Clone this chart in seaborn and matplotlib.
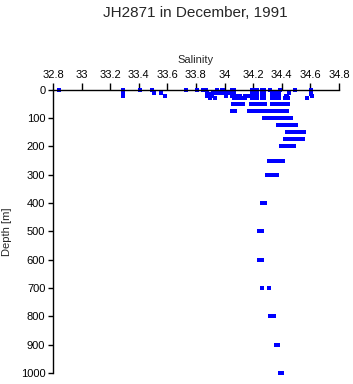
import numpy as np
import pandas as pd
import seaborn as sns
import matplotlib.pyplot as plt

sns.set_style("ticks")
plt.rcParams['font.family'] = ['Liberation Sans', 'DejaVu Sans']

# salinity readings at each sampling depth [m]
sal_0 = [32.844, 33.29, 33.41, 33.49, 33.73, 33.807, 33.85, 33.87, 33.95, 33.98,
         33.99, 34.05, 34.065, 34.19, 34.2, 34.21, 34.23, 34.26, 34.275, 34.32,
         34.39, 34.496, 34.605]
sal_5 = [33.29, 33.95, 34.605]
sal_10 = [33.29, 33.51, 33.555, 33.875, 33.92, 33.935, 33.95, 33.965, 33.98, 33.99,
          34.005, 34.02, 34.035, 34.05, 34.065, 34.19, 34.2, 34.215, 34.23, 34.26,
          34.275, 34.335, 34.35, 34.365, 34.38, 34.454, 34.605]
sal_15 = [33.29, 33.89, 34.605]
sal_20 = [33.29, 33.585, 33.88, 33.895, 33.91, 34.01, 34.05, 34.063, 34.075, 34.085,
          34.097, 34.108, 34.14, 34.152, 34.165, 34.178, 34.19, 34.2, 34.215, 34.23,
          34.26, 34.275, 34.335, 34.35, 34.365, 34.38, 34.43, 34.44, 34.61]
sal_30 = [33.90, 33.935, 34.066, 34.078, 34.09, 34.102, 34.114, 34.126, 34.14, 34.19,
          34.2, 34.215, 34.23, 34.26, 34.275, 34.335, 34.35, 34.365, 34.38, 34.426,
          34.445, 34.575]
sal_50 = [34.061, 34.072, 34.09, 34.1, 34.11, 34.12, 34.131, 34.187, 34.2, 34.21,
          34.22, 34.23, 34.24, 34.25, 34.26, 34.27, 34.284, 34.335, 34.345, 34.355,
          34.365, 34.375, 34.384, 34.391, 34.4, 34.41, 34.42, 34.43, 34.447]
sal_75 = [34.054, 34.073, 34.173, 34.19, 34.20, 34.22, 34.236, 34.25, 34.26, 34.27,
          34.28, 34.29, 34.305, 34.32, 34.335, 34.35, 34.363, 34.375, 34.39, 34.40,
          34.415, 34.427, 34.44]
sal_100 = [34.279, 34.29, 34.30, 34.31, 34.32, 34.333, 34.342, 34.36, 34.377, 34.39,
           34.40, 34.41, 34.42, 34.43, 34.44, 34.455, 34.466]
sal_125 = [34.377, 34.39, 34.40, 34.41, 34.42, 34.43, 34.44, 34.45, 34.46, 34.47,
           34.48, 34.49, 34.50]
sal_150 = [34.44, 34.452, 34.464, 34.476, 34.488, 34.50, 34.512, 34.524, 34.536,
           34.548, 34.557]
sal_175 = [34.421, 34.433, 34.445, 34.457, 34.469, 34.481, 34.493, 34.505, 34.517,
           34.524, 34.535, 34.548]
sal_200 = [34.398, 34.41, 34.422, 34.434, 34.446, 34.458, 34.47, 34.487]
sal_250 = [34.314, 34.335, 34.342, 34.354, 34.366, 34.378, 34.39, 34.40, 34.412]
sal_300 = [34.30, 34.312, 34.324, 34.336, 34.348, 34.36, 34.37]
sal_400 = [34.262, 34.282]
sal_500 = [34.24, 34.26]
sal_600 = [34.24, 34.265]
sal_700 = [34.265, 34.31]
sal_800 = [34.318, 34.345]
sal_900 = [34.358, 34.372]
sal_1000 = [34.388, 34.405]

levels = {0: sal_0, 5: sal_5, 10: sal_10, 15: sal_15, 20: sal_20, 30: sal_30,
          50: sal_50, 75: sal_75, 100: sal_100, 125: sal_125, 150: sal_150,
          175: sal_175, 200: sal_200, 250: sal_250, 300: sal_300, 400: sal_400,
          500: sal_500, 600: sal_600, 700: sal_700, 800: sal_800, 900: sal_900,
          1000: sal_1000}

rows = [(d, s) for d, vals in levels.items() for s in vals]
df = pd.DataFrame(rows, columns=["depth", "salinity"])

fig = plt.figure(figsize=(3.53, 3.84), dpi=100)
ax = fig.add_axes([0.150, 0.029, 0.810, 0.737])
sns.scatterplot(data=df, x="salinity", y="depth", ax=ax, marker="s", s=6.5,
                color="#0000ff", linewidth=0, clip_on=False, antialiased=False)

ax.set_xlim(32.8, 34.8)
ax.set_ylim(1000, 0)
ax.set_xticks(np.arange(32.8, 34.81, 0.2))
ax.set_xticklabels(["32.8", "33", "33.2", "33.4", "33.6", "33.8", "34",
                    "34.2", "34.4", "34.6", "34.8"])
ax.set_yticks(np.arange(0, 1001, 100))
ax.xaxis.tick_top()
ax.xaxis.set_label_position("top")
ax.tick_params(axis="x", length=5, width=1, labelsize=8, pad=2, colors="black")
ax.tick_params(axis="y", length=3.5, width=1, labelsize=8, pad=2, colors="black")
ax.set_xlabel("Salinity", fontsize=8, labelpad=5)
ax.set_ylabel("Depth [m]", fontsize=8, labelpad=6)
for side in ["right", "bottom"]:
    ax.spines[side].set_visible(False)
for side in ["left", "top"]:
    ax.spines[side].set_linewidth(1)
    ax.spines[side].set_color("black")

fig.suptitle("JH2871 in December, 1991", fontsize=11, y=0.985, x=0.553)
fig.savefig("out.png", dpi=100)
